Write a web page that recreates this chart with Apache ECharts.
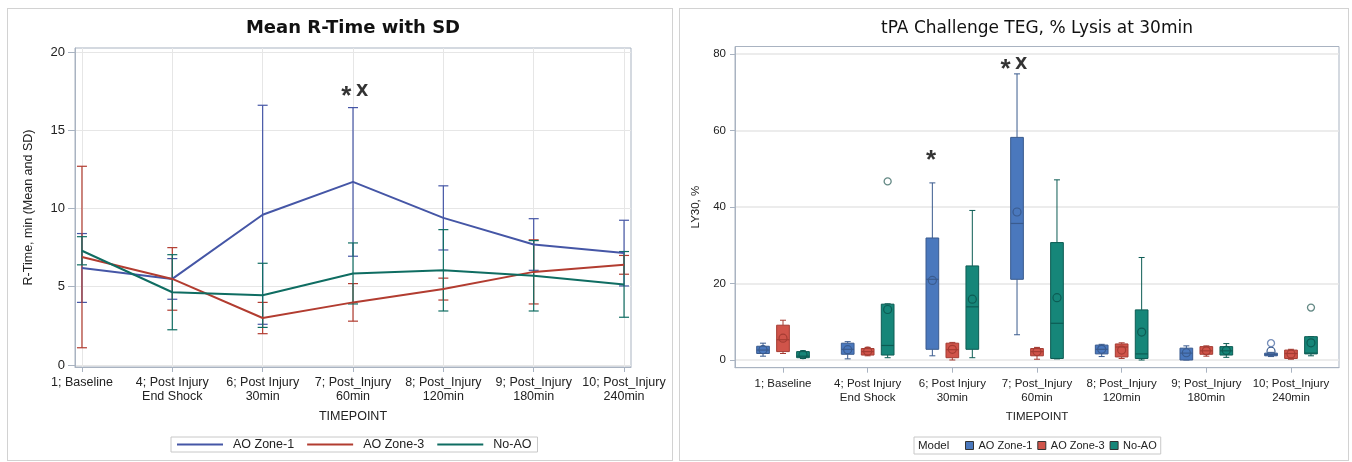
<!DOCTYPE html>
<html>
<head>
<meta charset="utf-8">
<script src="https://cdn.jsdelivr.net/npm/echarts@6/dist/echarts.min.js"></script>
<style>
  html, body { margin: 0; padding: 0; background: #fff; }
  .panel { position: absolute; border: 1px solid #d2d2d2; box-sizing: border-box; }
  .chart { position: absolute; top: 0; width: 676px; height: 462px; }
</style>
</head>
<body>
<div class="panel" style="left:7px;top:8px;width:666px;height:453px;"></div>
<div class="panel" style="left:679px;top:8px;width:670px;height:453px;"></div>
<div id="left" class="chart" style="left:0"></div>
<div id="right" class="chart" style="left:676px"></div>
<script>
// categories
const timepoints = ['1; Baseline', '4; Post Injury\nEnd Shock', '6; Post Injury\n30min', '7; Post_Injury\n60min',
  '8; Post_Injury\n120min', '9; Post_Injury\n180min', '10; Post_Injury\n240min'];
const groups = ['AO Zone-1', 'AO Zone-3', 'No-AO'];
const catTicks = [0, 1, 2, 3, 4, 5, 6];

// left: mean R-time and SD
const rtMeanZone1 = [6.2, 5.5, 9.6, 11.7, 9.4, 7.7, 7.15];
const rtSdZone1 = [2.2, 1.3, 7.0, 4.75, 2.05, 1.65, 2.1];
const rtMeanZone3 = [6.9, 5.5, 3.0, 4.0, 4.85, 5.95, 6.4];
const rtSdZone3 = [5.8, 2.0, 1.0, 1.2, 0.7, 2.05, 0.6];
const rtMeanNoAO = [7.3, 4.65, 4.45, 5.85, 6.05, 5.7, 5.15];
const rtSdNoAO = [0.9, 2.4, 2.05, 1.95, 2.6, 2.25, 2.1];
const rtTicks = [0, 5, 10, 15, 20];
const rtNote = [[3.02, 17.44, '* X']];

// right: LY30 box stats [min, q1, median, q3, max], mean, outliers [timepoint, value]
const lyBoxZone1 = [[1.0, 1.7, 2.6, 3.6, 4.4], [0.3, 1.5, 2.8, 4.4, 4.8], [1.1, 2.8, 21.1, 31.9, 46.3],
  [6.6, 21.1, 35.7, 58.2, 74.8], [0.9, 1.6, 2.8, 3.9, 4.1], [0, 0, 1.8, 3.1, 3.7], [0.9, 1.1, 1.4, 1.8, 2.0]];
const lyMeanZone1 = [2.7, 2.7, 20.8, 38.7, 2.8, 1.9, 2.3];
const lyOutZone1 = [[6, 4.4]];
const lyBoxZone3 = [[1.7, 2.2, 5.3, 9.1, 10.4], [1.1, 1.3, 2.2, 3.0, 3.3], [0, 0.6, 2.7, 4.4, 4.6],
  [0.2, 1.1, 2.2, 3.0, 3.3], [0.4, 0.8, 3.4, 4.2, 4.5], [1.0, 1.5, 2.4, 3.5, 3.7], [0.2, 0.4, 1.7, 2.6, 2.8]];
const lyMeanZone3 = [5.7, 2.3, 2.8, 2.2, 2.6, 2.4, 1.6];
const lyOutZone3 = [];
const lyBoxNoAO = [[0.4, 0.6, 1.0, 2.2, 2.4], [0.6, 1.3, 3.8, 14.6, 14.7], [0.6, 2.8, 13.9, 24.6, 39.1],
  [0.3, 0.4, 9.6, 30.7, 47.1], [0, 0.4, 1.6, 13.1, 26.8], [0.7, 1.3, 2.4, 3.5, 4.3], [1.1, 1.6, 1.8, 6.1, 6.1]];
const lyMeanNoAO = [1.4, 13.2, 15.9, 16.3, 7.3, 2.5, 4.5];
const lyOutNoAO = [[1, 46.7], [6, 13.7]];
const lyTicks = [0, 20, 40, 60, 80];
const lyNote = [[1.748, 53.3, '*'], [2.728, 77.1, '* X']];

const lineColors = ['#4556a6', '#b23c30', '#0f6d62'];
const boxFill = ['#4a78bd', '#d0544a', '#168679'];
const boxLine = ['#3a5b8e', '#a53c33', '#0d5c54'];
const outColor = ['#5472a8', '#a53c33', '#3d6b66'];
const boxShift = [-0.236, 0, 0.236];
const boxWidth = 0.15;
const fontName = 'Liberation Sans, Arial, sans-serif';
const frameColor = '#a9b3c1';
const gridColor = '#e6e6e6';

function noteSeries(data) {
  return {
    type: 'scatter', symbolSize: 0, silent: true, z: 10,
    data: data.map(d => ({ value: [d[0], d[1]], name: d[2] })),
    label: {
      show: true, position: 'inside',
      formatter: p => p.name.split(' ').map(t => t === '*' ? '{a|*}' : '{b|' + t + '}').join('{s| }'),
      rich: {
        a: { fontSize: 26, fontWeight: 'bold', color: '#000', fontFamily: fontName, padding: [9, 0, 0, 0] },
        b: { fontSize: 16, fontWeight: 'bold', color: '#000', fontFamily: 'DejaVu Sans' },
        s: { fontSize: 16 }
      }
    }
  };
}

function errorBarItem(color) {
  return function (params, api) {
    const top = api.coord([api.value(0), api.value(2)]);
    const bot = api.coord([api.value(0), api.value(1)]);
    const hw = 5;
    const style = { stroke: color, lineWidth: 1.2 };
    return {
      type: 'group', children: [
        { type: 'line', shape: { x1: top[0], y1: top[1], x2: bot[0], y2: bot[1] }, style: style },
        { type: 'line', shape: { x1: top[0] - hw, y1: top[1], x2: top[0] + hw, y2: top[1] }, style: style },
        { type: 'line', shape: { x1: bot[0] - hw, y1: bot[1], x2: bot[0] + hw, y2: bot[1] }, style: style }
      ]
    };
  };
}

function boxItem(g) {
  return function (params, api) {
    const x = api.value(0) + boxShift[g];
    const p = k => api.coord([x, api.value(k)]);
    const lo = p(1), q1 = p(2), md = p(3), q3 = p(4), hi = p(5), mn = p(6);
    const hw = api.size([boxWidth, 0])[0] / 2;
    const cw = 3;
    const cx = md[0];
    const ws = { stroke: boxLine[g], lineWidth: 1 };
    return {
      type: 'group', children: [
        { type: 'line', shape: { x1: cx, y1: hi[1], x2: cx, y2: q3[1] }, style: ws },
        { type: 'line', shape: { x1: cx, y1: q1[1], x2: cx, y2: lo[1] }, style: ws },
        { type: 'line', shape: { x1: cx - cw, y1: hi[1], x2: cx + cw, y2: hi[1] }, style: ws },
        { type: 'line', shape: { x1: cx - cw, y1: lo[1], x2: cx + cw, y2: lo[1] }, style: ws },
        { type: 'rect', shape: { x: cx - hw, y: q3[1], width: hw * 2, height: Math.max(q1[1] - q3[1], 1) },
          style: { fill: boxFill[g], stroke: boxLine[g], lineWidth: 1 } },
        { type: 'line', shape: { x1: cx - hw, y1: md[1], x2: cx + hw, y2: md[1] }, style: { stroke: boxLine[g], lineWidth: 1.2 } },
        { type: 'circle', shape: { cx: cx, cy: mn[1], r: 4 }, style: { fill: 'none', stroke: boxLine[g], lineWidth: 1.2 } }
      ]
    };
  };
}

// ---------- left chart ----------
const leftChart = echarts.init(document.getElementById('left'));
const rtMeans = [rtMeanZone1, rtMeanZone3, rtMeanNoAO];
const rtSds = [rtSdZone1, rtSdZone3, rtSdNoAO];
let leftSeries = [];
groups.forEach(function (name, g) {
  leftSeries.push({
    name: name + ' SD', type: 'custom', z: 2,
    renderItem: errorBarItem(lineColors[g]),
    encode: { x: 0, y: [1, 2] },
    data: rtMeans[g].map((m, i) => [i, m - rtSds[g][i], m + rtSds[g][i]])
  });
});
groups.forEach(function (name, g) {
  leftSeries.push({
    name: name, type: 'line', z: 3, symbol: 'none',
    lineStyle: { width: 2, color: lineColors[g] }, itemStyle: { color: lineColors[g] },
    data: rtMeans[g].map((m, i) => [i, m])
  });
});
leftSeries.push(noteSeries(rtNote));

leftChart.setOption({
  animation: false,
  textStyle: { fontFamily: fontName },
  graphic: [{
    type: 'text', x: 353, y: 28,
    style: { text: 'Mean R-Time with SD', align: 'center', verticalAlign: 'middle', fontSize: 18, fontWeight: 'bold', fill: '#111', fontFamily: 'DejaVu Sans' }
  }],
  grid: { left: 75, right: 45, top: 48, bottom: 95, show: true, borderColor: frameColor, borderWidth: 1 },
  legend: {
    data: groups.map((n, g) => ({ name: n, icon: 'rect', itemStyle: { color: lineColors[g] } })),
    left: 171, top: 437, padding: [1, 6, 1, 6], itemGap: 13,
    itemWidth: 46, itemHeight: 2, borderColor: '#c8c8c8', borderWidth: 1,
    textStyle: { fontSize: 12.5, color: '#222', fontFamily: fontName, padding: [0, 0, 0, 5], lineHeight: 13 }
  },
  xAxis: {
    type: 'value', min: -0.077, max: 6.077,
    name: 'TIMEPOINT', nameLocation: 'middle', nameGap: 43,
    nameTextStyle: { fontSize: 12.5, color: '#222', fontFamily: fontName },
    axisLine: { show: true, onZero: false, lineStyle: { color: frameColor } },
    axisTick: { show: true, customValues: catTicks, length: 5, lineStyle: { color: frameColor } },
    axisLabel: { customValues: catTicks, formatter: v => timepoints[v], margin: 9, lineHeight: 14, fontSize: 12.5, color: '#222' },
    splitLine: { show: true, lineStyle: { color: gridColor } }
  },
  yAxis: {
    type: 'value', min: -0.13, max: 20.26,
    name: 'R-Time, min (Mean and SD)', nameLocation: 'middle', nameGap: 40,
    nameTextStyle: { fontSize: 12.5, color: '#222', fontFamily: fontName },
    axisLine: { show: true, onZero: false, lineStyle: { color: frameColor } },
    axisTick: { show: true, customValues: rtTicks, length: 7, lineStyle: { color: frameColor } },
    axisLabel: { customValues: rtTicks, margin: 10, fontSize: 13, color: '#222' },
    splitLine: { show: true, lineStyle: { color: gridColor } }
  },
  series: leftSeries
});

// ---------- right chart ----------
const rightChart = echarts.init(document.getElementById('right'));
const lyBoxes = [lyBoxZone1, lyBoxZone3, lyBoxNoAO];
const lyMeans = [lyMeanZone1, lyMeanZone3, lyMeanNoAO];
const lyOuts = [lyOutZone1, lyOutZone3, lyOutNoAO];
let rightSeries = [];
groups.forEach(function (name, g) {
  rightSeries.push({
    name: name, type: 'custom', z: 3,
    itemStyle: { color: boxFill[g], borderColor: boxLine[g] },
    renderItem: boxItem(g),
    encode: { x: 0, y: [1, 2, 3, 4, 5, 6] },
    data: lyBoxes[g].map((b, i) => [i].concat(b, [lyMeans[g][i]]))
  });
  rightSeries.push({
    name: name + ' outlier', type: 'scatter', z: 4, symbol: 'circle', symbolSize: 7,
    itemStyle: { color: '#fff', borderColor: outColor[g], borderWidth: 1.3 },
    data: lyOuts[g].map(o => [o[0] + boxShift[g], o[1]])
  });
});
rightSeries.push(noteSeries(lyNote));

rightChart.setOption({
  animation: false,
  textStyle: { fontFamily: fontName },
  graphic: [{
    type: 'text', x: 361, y: 29,
    style: { text: 'tPA Challenge TEG, % Lysis at 30min', align: 'center', verticalAlign: 'middle', fontSize: 17, fill: '#111', fontFamily: 'DejaVu Sans' }
  }, {
    type: 'text', x: 242, y: 446,
    style: { text: 'Model', verticalAlign: 'middle', fontSize: 11.5, fill: '#222', fontFamily: fontName }
  }],
  grid: { left: 59, right: 13, top: 46.5, bottom: 94.3, show: true, borderColor: frameColor, borderWidth: 1 },
  legend: {
    data: groups.map((n, g) => ({ name: n, itemStyle: { color: boxFill[g], borderColor: '#333', borderWidth: 1 } })),
    icon: 'rect', left: 238, top: 437, padding: [3, 4, 3, 51], itemGap: 5,
    itemWidth: 8, itemHeight: 8, borderColor: '#c8c8c8', borderWidth: 1,
    textStyle: { fontSize: 11, color: '#222', fontFamily: fontName, padding: [0, 0, 0, 0] }
  },
  xAxis: {
    type: 'value', min: -0.567, max: 6.567,
    name: 'TIMEPOINT', nameLocation: 'middle', nameGap: 43,
    nameTextStyle: { fontSize: 11.5, color: '#222', fontFamily: fontName },
    axisLine: { show: true, onZero: false, lineStyle: { color: frameColor } },
    axisTick: { show: true, customValues: catTicks, length: 5, lineStyle: { color: frameColor } },
    axisLabel: { customValues: catTicks, formatter: v => timepoints[v], margin: 9, lineHeight: 14, fontSize: 11.5, color: '#222' },
    splitLine: { show: false }
  },
  yAxis: {
    type: 'value', min: -2.01, max: 81.96,
    name: 'LY30, %', nameLocation: 'middle', nameGap: 25,
    nameTextStyle: { fontSize: 11.5, color: '#222', fontFamily: fontName },
    axisLine: { show: true, onZero: false, lineStyle: { color: frameColor } },
    axisTick: { show: true, customValues: lyTicks, length: 5, lineStyle: { color: frameColor } },
    axisLabel: { customValues: lyTicks, margin: 9, fontSize: 11.5, color: '#222' },
    splitLine: { show: true, lineStyle: { color: gridColor, width: 1.5 } }
  },
  series: rightSeries
});
</script>
</body>
</html>
